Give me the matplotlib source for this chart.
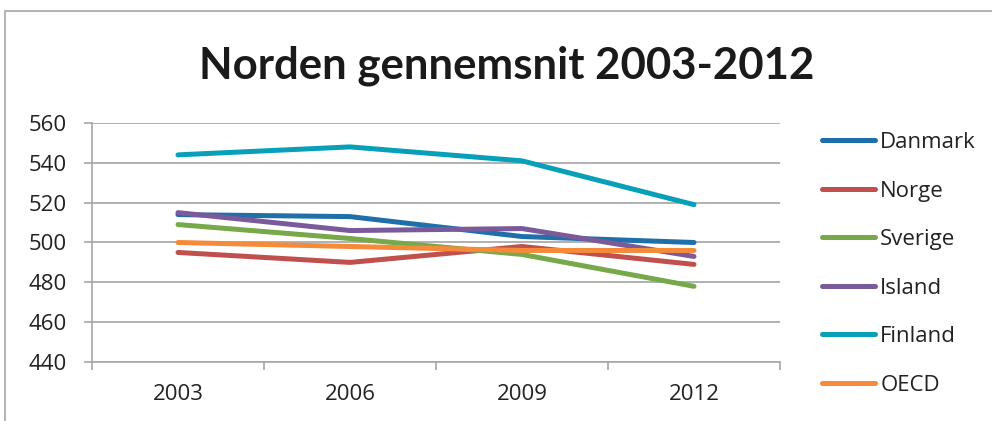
import matplotlib.pyplot as plt
from matplotlib.patches import Rectangle

# data
years = ['2003', '2006', '2009', '2012']
danmark = [514, 513, 503, 500]
norge = [495, 490, 498, 489]
sverige = [509, 502, 494, 478]
island = [515, 506, 507, 493]
finland = [544, 548, 541, 519]
oecd = [500, 498, 496, 496]

names = ['Danmark', 'Norge', 'Sverige', 'Island', 'Finland', 'OECD']
series = [danmark, norge, sverige, island, finland, oecd]
colors = ['#1f6fa8', '#c0504d', '#77a84a', '#7a5a9a', '#08a0b8', '#f58a3a']

plt.rcParams['font.family'] = ['Open Sans', 'DejaVu Sans']

fig = plt.figure(figsize=(9.92, 4.21), dpi=100)
fig.patches.append(Rectangle((5/992, -0.1), 1.2, 1 - 11/421 + 0.1,
                             transform=fig.transFigure, fill=False,
                             edgecolor='#a6a6a6', linewidth=1.2))

ax = fig.add_axes([92/992, 1 - 362/421, 688/992, 239/421])
x = list(range(len(years)))
for name, vals, c in zip(names, series, colors):
    ax.plot(x, vals, color=c, linewidth=3.6, solid_capstyle='round', label=name)

ax.set_xlim(-0.5, 3.5)
ax.set_ylim(440, 560)
ax.set_yticks(range(440, 561, 20))
ax.set_xticks(x)
ax.set_xticklabels(years)
ax.set_xticks([-0.5, 0.5, 1.5, 2.5, 3.5], minor=True)
ax.tick_params(axis='x', which='major', length=0, labelsize=16, pad=16, colors='#222222')
ax.tick_params(axis='x', which='minor', length=6, width=1.2, color='#a6a6a6', direction='out')
ax.tick_params(axis='y', length=6, width=1.2, color='#a6a6a6', labelsize=16, labelcolor='#222222', pad=12)
ax.grid(axis='y', color='#b0b0b0', linewidth=1.4)
ax.set_axisbelow(True)
for s in ['top', 'right']:
    ax.spines[s].set_visible(False)
for s in ['left', 'bottom']:
    ax.spines[s].set_color('#a6a6a6')
    ax.spines[s].set_linewidth(1.2)

fig.text(0.511, 1 - 78/421, 'Norden gennemsnit 2003-2012', ha='center', va='baseline',
         fontsize=31.5, fontweight='bold', color='#1a1a1a', family=['Lato', 'DejaVu Sans'])

ax.legend(loc='upper left', bbox_to_anchor=(802/992, 1 - 112/421),
          bbox_transform=fig.transFigure, frameon=False, fontsize=16,
          handlelength=2.4, handletextpad=0.22, labelspacing=1.24,
          labelcolor='#222222')

fig.savefig('out.png', dpi=100)
